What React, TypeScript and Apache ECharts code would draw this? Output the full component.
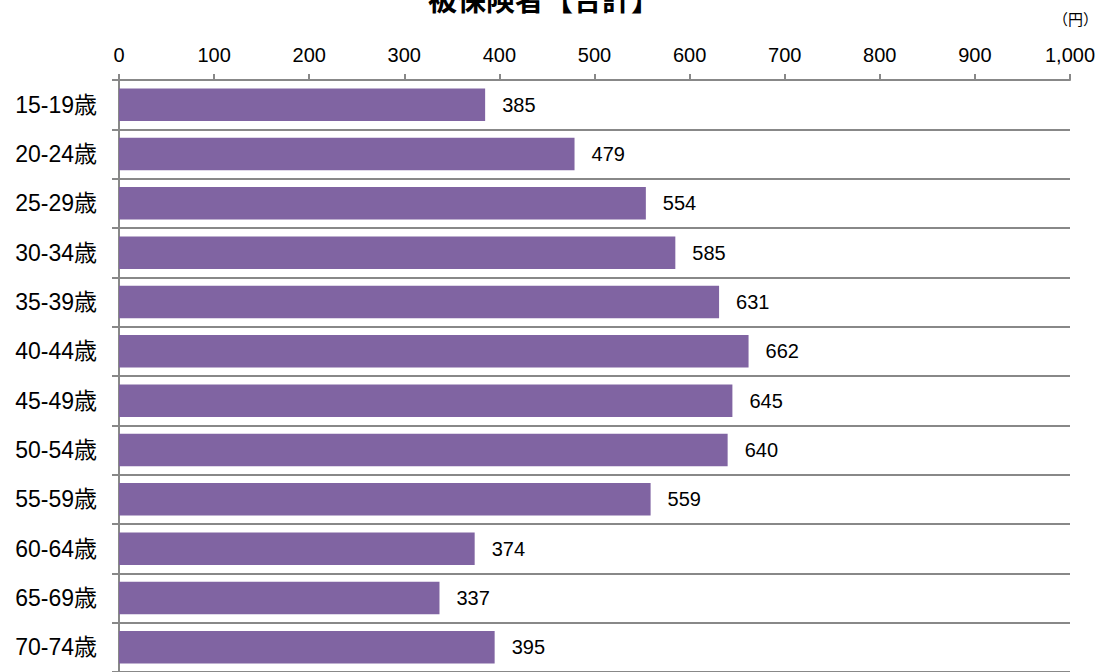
import React, { useEffect, useRef } from "react";
import * as echarts from "echarts";

const categories = [
  "15-19歳", "20-24歳", "25-29歳", "30-34歳", "35-39歳", "40-44歳",
  "45-49歳", "50-54歳", "55-59歳", "60-64歳", "65-69歳", "70-74歳",
];
const values = [385, 479, 554, 585, 631, 662, 645, 640, 559, 374, 337, 395];
const title = "被保険者【合計】";
const unit = "（円）";

const FONT = "'Liberation Sans', Arial, 'Noto Sans CJK JP', sans-serif";

export default function App() {
  const ref = useRef<HTMLDivElement>(null);
  useEffect(() => {
    if (!ref.current) return;
    const chart = echarts.init(ref.current, null, { renderer: "svg" });
    chart.setOption({
      animation: false,
      backgroundColor: "#ffffff",
      graphic: [
        {
          type: "text",
          left: 428,
          top: -14,
          style: {
            text: title,
            fontSize: 29,
            fontWeight: "bold",
            fontFamily: FONT,
            fill: "#000",
          },
        },
        {
          type: "text",
          right: 1,
          top: 11,
          style: {
            text: unit,
            fontSize: 15,
            fontWeight: "normal",
            fontFamily: "'Noto Sans CJK JP', sans-serif",
            fill: "#000",
          },
        },
      ],
      grid: { left: 119, top: 80, width: 951, height: 598, containLabel: false },
      xAxis: {
        type: "value",
        position: "top",
        min: 0,
        max: 1000,
        interval: 100,
        axisLine: { show: true, lineStyle: { color: "#888888", width: 2 } },
        axisTick: { show: true, length: 6, lineStyle: { color: "#888888", width: 2 } },
        splitLine: { show: false },
        axisLabel: {
          margin: 15,
          color: "#000",
          fontSize: 20,
          fontFamily: FONT,
          formatter: (v: number) => v.toLocaleString("en-US"),
        },
      },
      yAxis: {
        type: "category",
        inverse: true,
        data: categories,
        axisLine: { show: true, lineStyle: { color: "#888888", width: 2 } },
        axisTick: { show: true, length: 7, lineStyle: { color: "#888888", width: 2 } },
        splitLine: { show: true, lineStyle: { color: "#888888", width: 2 } },
        axisLabel: {
          margin: 22,
          color: "#000",
          fontSize: 23,
          fontFamily: FONT,
        },
      },
      series: [
        {
          type: "bar",
          data: values,
          barCategoryGap: "34%",
          itemStyle: { color: "#8064A2" },
          label: {
            show: true,
            position: "right",
            distance: 17,
            color: "#000",
            fontSize: 20,
            fontFamily: FONT,
          },
        },
      ],
    });
    return () => chart.dispose();
  }, []);
  return (
    <div
      ref={ref}
      style={{ position: "fixed", left: 0, top: 0, width: 1099, height: 672 }}
    />
  );
}
